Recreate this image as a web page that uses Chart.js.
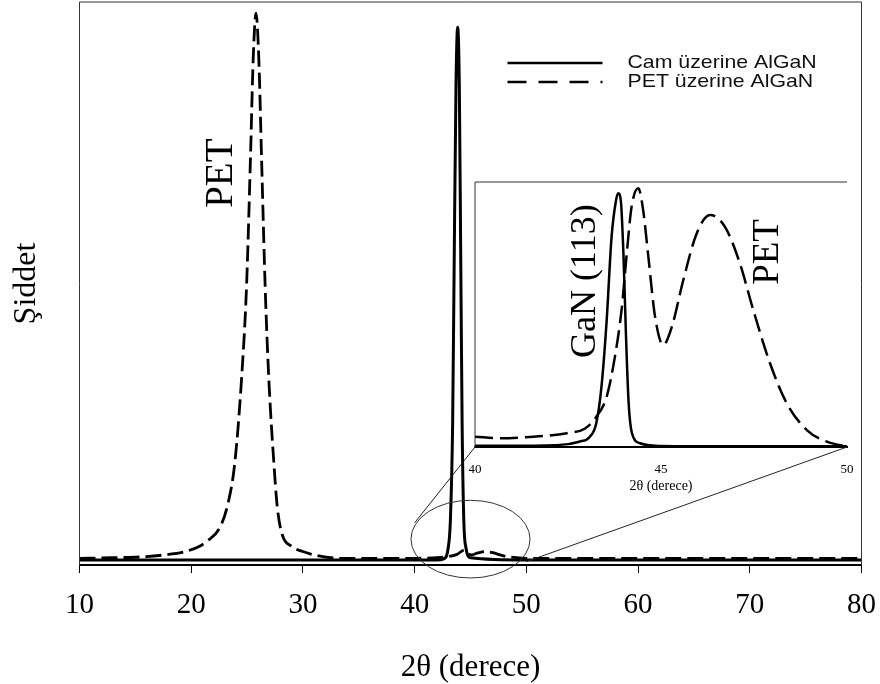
<!DOCTYPE html>
<html>
<head>
<meta charset="utf-8">
<script src="https://cdn.jsdelivr.net/npm/chart.js@4.4.1/dist/chart.umd.min.js"></script>
<style>
  html, body { margin: 0; padding: 0; background: #fff; }
  #wrap { position: relative; width: 880px; height: 684px; }
  #wrap canvas { position: absolute; left: 0; top: 0; }
</style>
</head>
<body>
<div id="wrap">
  <canvas id="mainChart" width="880" height="684"></canvas>
  <canvas id="insetChart" width="880" height="684"></canvas>
</div>
<script>
// XRD scans, 2theta in degrees, intensity in arbitrary units
const camX = [10, 20, 30, 40, 42, 42.6, 43.0, 43.2, 43.4, 43.55, 43.7, 43.85, 44.0, 44.12, 44.25, 44.4, 44.6, 45, 50, 60, 70, 80];
const camY = [9, 9, 9, 9, 9, 11, 30, 80, 250, 560, 850, 955, 850, 560, 250, 80, 30, 13, 9, 9, 9, 9];

const petX = [10, 13, 16, 18, 19.3, 20.8, 21.4, 22.6, 23.3, 23.9, 24.5, 24.95, 25.3, 25.55, 25.8, 26.05, 26.3, 26.62, 26.95, 27.4,
  27.7, 28.1, 29, 30, 31, 33.3, 36, 40, 42, 43, 43.8, 44.4, 45.05, 45.6, 46.3, 47, 47.8, 48.6, 50, 60, 70, 80];
const petY = [12, 13, 15, 19, 23, 34, 42, 68, 110, 181, 329, 494, 720, 900, 980, 900, 720, 494, 329, 181,
  104, 57, 33, 24, 18, 12, 12, 12, 13, 15, 19, 26, 18, 21, 24, 22, 17, 14, 12, 12, 12, 12];

// zoomed 40-50 region (normalised)
const insetCamX = [40, 41, 42.28, 42.8, 43.09, 43.26, 43.4, 43.54, 43.67, 43.79, 43.85, 43.92, 43.99, 44.06, 44.13, 44.22, 44.44, 44.97, 46, 48, 50];
const insetCamY = [0.005, 0.005, 0.008, 0.02, 0.039, 0.09, 0.228, 0.479, 0.79, 0.93, 0.958, 0.93, 0.73, 0.416, 0.166, 0.052, 0.014, 0.004, 0.003, 0.003, 0.003];

const insetPetX = [40, 40.67, 41.57, 42.47, 42.96, 43.23, 43.54, 43.76, 43.94, 44.08, 44.21, 44.39, 44.52, 44.66, 44.84, 45.06, 45.29, 45.6,
  45.96, 46.32, 46.72, 47.12, 47.48, 47.93, 48.38, 48.92, 49.46, 50];
const insetPetY = [0.039, 0.033, 0.039, 0.052, 0.07, 0.108, 0.19, 0.34, 0.517, 0.731, 0.907, 0.976, 0.894, 0.718, 0.492, 0.385, 0.453, 0.63,
  0.806, 0.875, 0.831, 0.693, 0.517, 0.316, 0.165, 0.064, 0.02, 0.001];

const seriesLabels = ['Cam üzerine AlGaN', 'PET üzerine AlGaN'];
const xTitle = '2θ (derece)';
const yTitle = 'Şiddet';

// ellipse marking the zoomed part of the main scan (data units)
const zoomMark = { x: 45, y: 46, rx: 5.33, ry: 69 };

const serif = "'Liberation Serif', 'Times New Roman', serif";
const sans = "'Liberation Sans', Arial, sans-serif";

const toPoints = (xs, ys) => xs.map((v, i) => ({ x: v, y: ys[i] }));

const vText = (ctx, txt, x, y, font) => {
  ctx.save();
  ctx.translate(x, y);
  ctx.rotate(-Math.PI / 2);
  ctx.font = font;
  ctx.fillStyle = '#000';
  ctx.textAlign = 'center';
  ctx.textBaseline = 'alphabetic';
  ctx.fillText(txt, 0, 0);
  ctx.restore();
};

const mainDecor = {
  id: 'mainDecor',
  afterDraw(chart) {
    const { ctx, chartArea: a, scales: { x, y } } = chart;
    ctx.save();
    // frame (bottom side is the x axis border)
    ctx.strokeStyle = '#333';
    ctx.lineWidth = 1;
    ctx.beginPath();
    ctx.moveTo(a.left, a.bottom);
    ctx.lineTo(a.left, a.top);
    ctx.lineTo(a.right, a.top);
    ctx.lineTo(a.right, a.bottom);
    ctx.stroke();

    // ellipse round 40-50
    const cx = x.getPixelForValue(zoomMark.x);
    const cy = y.getPixelForValue(zoomMark.y);
    const rx = x.getPixelForValue(zoomMark.x + zoomMark.rx) - cx;
    const ry = cy - y.getPixelForValue(zoomMark.y + zoomMark.ry);
    ctx.beginPath();
    ctx.ellipse(cx, cy, rx, ry, 0, 0, Math.PI * 2);
    ctx.stroke();
    ctx.restore();

    vText(ctx, 'PET', x.getPixelForValue(23.65), y.getPixelForValue(696), '39px ' + serif);
    vText(ctx, yTitle, a.left - 44.5, (a.top + a.bottom) / 2, '32px ' + serif);

    // legend
    const lx = a.right - 354;
    const rows = [a.top + 61, a.top + 80];
    ctx.save();
    ctx.strokeStyle = '#000';
    ctx.fillStyle = '#111';
    rows.forEach((ry2, i) => {
      ctx.beginPath();
      ctx.lineWidth = 2.5;
      ctx.setLineDash(i === 0 ? [] : [19, 12]);
      ctx.moveTo(lx, ry2);
      ctx.lineTo(lx + 95, ry2);
      ctx.stroke();
      ctx.save();
      ctx.translate(lx + 120, ry2);
      ctx.scale(1.12, 1);
      ctx.font = '19px ' + sans;
      ctx.textBaseline = 'middle';
      ctx.fillText(seriesLabels[i], 0, 0);
      ctx.restore();
    });
    ctx.restore();
  }
};

const mainChart = new Chart(document.getElementById('mainChart'), {
  type: 'line',
  data: {
    datasets: [
      { label: seriesLabels[0], data: toPoints(camX, camY), borderColor: '#000', borderWidth: 3,
        pointRadius: 0, cubicInterpolationMode: 'monotone', fill: false },
      { label: seriesLabels[1], data: toPoints(petX, petY), borderColor: '#000', borderWidth: 2.8,
        borderDash: [16, 6], pointRadius: 0, cubicInterpolationMode: 'monotone', fill: false }
    ]
  },
  options: {
    responsive: false,
    animation: false,
    devicePixelRatio: 1,
    layout: { padding: { left: 79.5, right: 18.5, top: 2, bottom: 0 } },
    plugins: { legend: { display: false }, tooltip: { enabled: false } },
    scales: {
      x: {
        type: 'linear', min: 10, max: 80,
        ticks: { stepSize: 10, color: '#000', padding: 0, font: { family: serif, size: 29, lineHeight: 2.24 } },
        grid: { display: true, drawOnChartArea: false, drawTicks: true, tickLength: 8, color: '#000', lineWidth: 1 },
        border: { display: true, color: '#000', width: 2 },
        title: { display: true, text: xTitle, color: '#000', padding: { top: 14, bottom: 1 },
          font: { family: serif, size: 31, lineHeight: 1 } }
      },
      y: { min: 0, max: 1000, display: false }
    }
  },
  plugins: [mainDecor]
});

const insetDecor = {
  id: 'insetDecor',
  afterDraw(chart) {
    const { ctx, chartArea: a, scales: { x, y } } = chart;
    const mx = mainChart.scales.x, my = mainChart.scales.y;
    ctx.save();
    ctx.strokeStyle = '#333';
    ctx.lineWidth = 1;
    ctx.beginPath();
    ctx.moveTo(a.left, a.bottom);
    ctx.lineTo(a.left, a.top);
    ctx.lineTo(a.right, a.top);
    ctx.stroke();

    // connectors back to the main scan
    ctx.strokeStyle = '#222';
    ctx.beginPath();
    ctx.moveTo(x.getPixelForValue(40), y.getPixelForValue(0));
    ctx.lineTo(mx.getPixelForValue(40), my.getPixelForValue(75));
    ctx.moveTo(x.getPixelForValue(50), y.getPixelForValue(0));
    ctx.lineTo(mx.getPixelForValue(50), my.getPixelForValue(6));
    ctx.stroke();
    ctx.restore();

    vText(ctx, 'GaN (113)', x.getPixelForValue(43.23), y.getPixelForValue(0.626), '36px ' + serif);
    vText(ctx, 'PET', x.getPixelForValue(48.15), y.getPixelForValue(0.736), '37px ' + serif);
  }
};

new Chart(document.getElementById('insetChart'), {
  type: 'line',
  data: {
    datasets: [
      { label: seriesLabels[0], data: toPoints(insetCamX, insetCamY), borderColor: '#000', borderWidth: 2.5,
        pointRadius: 0, cubicInterpolationMode: 'monotone', fill: false },
      { label: seriesLabels[1], data: toPoints(insetPetX, insetPetY), borderColor: '#000', borderWidth: 2.5,
        borderDash: [18, 7], pointRadius: 0, cubicInterpolationMode: 'monotone', fill: false }
    ]
  },
  options: {
    responsive: false,
    animation: false,
    devicePixelRatio: 1,
    layout: { padding: { left: 475, right: 33, top: 182, bottom: 190.3 } },
    plugins: { legend: { display: false }, tooltip: { enabled: false } },
    scales: {
      x: {
        type: 'linear', min: 40, max: 50,
        ticks: { stepSize: 5, color: '#000', padding: 0, font: { family: serif, size: 13, lineHeight: 1.385 } },
        grid: { display: true, drawOnChartArea: false, drawTicks: true, tickLength: 14, color: 'rgba(0,0,0,0)' },
        border: { display: true, color: '#000', width: 2 },
        title: { display: true, text: xTitle, color: '#000', padding: { top: 0.7, bottom: 0 },
          font: { family: serif, size: 14, lineHeight: 1 } }
      },
      y: { min: 0, max: 1, display: false }
    }
  },
  plugins: [insetDecor]
});
</script>
</body>
</html>
